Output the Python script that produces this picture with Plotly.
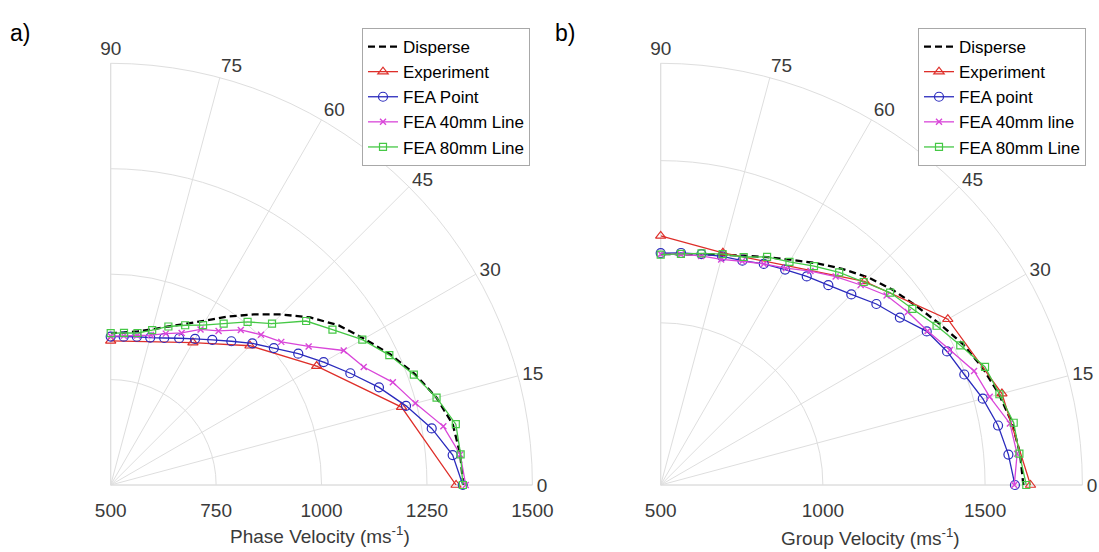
import plotly.graph_objects as go

# ---- data -------------------------------------------------------------
angles = [0, 5, 10, 15, 20, 25, 30, 35, 40, 45, 50, 55, 60, 65, 70, 75, 80, 85, 90]

# (a) phase velocity, m/s
phase_disperse = [1336, 1332, 1324, 1300, 1268, 1232, 1194, 1160, 1118, 1072,
                  1028, 988, 950, 922, 900, 882, 870, 863, 860]
phase_exp_angles = [0, 15, 30, 45, 60, 90]
phase_experiment = [1319, 1214, 1064, 967, 890, 842]
phase_fea_point = [1335, 1314, 1273, 1225, 1177, 1127, 1083, 1043, 1005, 975,
                   945, 920, 900, 884, 871, 862, 857, 853, 852]
phase_fea_40mm = [1342, 1332, 1301, 1248, 1212, 1162, 1138, 1073, 1028, 1004,
                  980, 946, 926, 898, 882, 868, 860, 855, 853]
phase_fea_80mm = [1335, 1333, 1331, 1300, 1265, 1229, 1189, 1142, 1105, 1041,
                  1005, 967, 938, 918, 900, 880, 866, 862, 860]

# (b) group velocity, m/s
group_disperse = [1618, 1612, 1600, 1580, 1556, 1528, 1493, 1462, 1435, 1405,
                  1370, 1335, 1302, 1275, 1252, 1235, 1222, 1214, 1212]
group_exp_angles = [0, 15, 30, 45, 75, 90]
group_experiment = [1640, 1589, 1522, 1388, 1241, 1268]
group_fea_point = [1592, 1576, 1556, 1528, 1496, 1474, 1447, 1400, 1368, 1331,
                   1304, 1285, 1267, 1252, 1236, 1230, 1223, 1218, 1215]
group_fea_40mm = [1590, 1603, 1593, 1550, 1528, 1484, 1450, 1430, 1409, 1372,
                  1339, 1305, 1272, 1252, 1234, 1220, 1217, 1214, 1212]
group_fea_80mm = [1627, 1610, 1605, 1581, 1564, 1519, 1482, 1447, 1423, 1385,
                  1356, 1324, 1294, 1276, 1248, 1237, 1225, 1215, 1210]

names_a = ["Disperse", "Experiment", "FEA Point", "FEA 40mm Line", "FEA 80mm Line"]
names_b = ["Disperse", "Experiment", "FEA point", "FEA 40mm line", "FEA 80mm Line"]

theta_ticks = [0, 15, 30, 45, 60, 75, 90]
r_ticks_a = [500, 750, 1000, 1250, 1500]
r_ticks_b = [500, 1000, 1500]

# ---- styling ----------------------------------------------------------
FONT = "Liberation Sans, Arial, sans-serif"
GRID = "#dedede"
TICK_COLOR = "#3a3a3a"
RED, BLUE, MAGENTA, GREEN = "#de2f2a", "#2b2bbd", "#d946d9", "#46c846"

W, H = 1099, 552


def add_series(fig, subplot, legend, names, disp, exp_th, exp, point, l40, l80):
    common = dict(subplot=subplot, legend=legend, cliponaxis=False,
                  hoverinfo="skip")
    fig.add_trace(go.Scatterpolar(
        theta=angles, r=disp, name=names[0], mode="lines",
        line=dict(color="black", width=2.3, dash="7px,4px"), **common))
    fig.add_trace(go.Scatterpolar(
        theta=exp_th, r=exp, name=names[1], mode="lines+markers",
        line=dict(color=RED, width=1.3),
        marker=dict(symbol="triangle-up-open", size=9, color=RED,
                    line=dict(width=1.2)), **common))
    fig.add_trace(go.Scatterpolar(
        theta=angles, r=point, name=names[2], mode="lines+markers",
        line=dict(color=BLUE, width=1.3),
        marker=dict(symbol="circle-open", size=9, color=BLUE,
                    line=dict(width=1.2)), **common))
    fig.add_trace(go.Scatterpolar(
        theta=angles, r=l40, name=names[3], mode="lines+markers",
        line=dict(color=MAGENTA, width=1.3),
        marker=dict(symbol="x-thin-open", size=6, color=MAGENTA,
                    line=dict(width=1.4, color=MAGENTA)), **common))
    fig.add_trace(go.Scatterpolar(
        theta=angles, r=l80, name=names[4], mode="lines+markers",
        line=dict(color=GREEN, width=1.3),
        marker=dict(symbol="square-open", size=7, color=GREEN,
                    line=dict(width=1.2)), **common))


fig = go.Figure()
add_series(fig, "polar", "legend", names_a, phase_disperse, phase_exp_angles,
           phase_experiment, phase_fea_point, phase_fea_40mm, phase_fea_80mm)
add_series(fig, "polar2", "legend2", names_b, group_disperse, group_exp_angles,
           group_experiment, group_fea_point, group_fea_40mm, group_fea_80mm)


def polar_layout(x0, x1, rrange, rticks):
    return dict(
        domain=dict(x=[x0 / W, x1 / W], y=[(H - 485) / H, (H - 63.3) / H]),
        sector=[0, 90],
        bgcolor="white",
        radialaxis=dict(
            range=rrange, tickmode="array", tickvals=rticks, angle=0,
            side="clockwise", showline=False,
            # invisible ticks push the labels a little below the axis
            ticks="outside", ticklen=9, tickcolor="rgba(0,0,0,0)",
            gridcolor=GRID, gridwidth=1,
            tickfont=dict(family=FONT, size=19, color=TICK_COLOR),
            layer="below traces"),
        angularaxis=dict(
            tickmode="array", tickvals=theta_ticks, direction="counterclockwise",
            rotation=0, showline=True, linecolor=GRID, linewidth=1,
            gridcolor=GRID, gridwidth=1, ticks="",
            tickfont=dict(family=FONT, size=19, color=TICK_COLOR),
            layer="below traces"),
    )


legend_style = dict(
    xanchor="left", yanchor="top", bgcolor="white", bordercolor="#a8a8a8",
    borderwidth=1, font=dict(family=FONT, size=17, color="black"),
    itemwidth=30, tracegroupgap=0, traceorder="normal")

fig.update_layout(
    width=W, height=H,
    margin=dict(l=0, r=0, t=0, b=0),
    paper_bgcolor="white",
    font=dict(family=FONT, color=TICK_COLOR),
    showlegend=True,
    polar=polar_layout(110.7, 532.4, [500, 1500], r_ticks_a),
    polar2=polar_layout(660.7, 1082.4, [500, 1800], r_ticks_b),
    legend=dict(x=362 / W, y=(H - 28) / H, **legend_style),
    legend2=dict(x=918 / W, y=(H - 28) / H, **legend_style),
    annotations=[
        dict(text="a)", x=8 / W, y=(H - 33) / H, xref="paper", yref="paper",
             xanchor="left", yanchor="middle", showarrow=False,
             font=dict(family=FONT, size=23, color="black")),
        dict(text="b)", x=553 / W, y=(H - 33) / H, xref="paper", yref="paper",
             xanchor="left", yanchor="middle", showarrow=False,
             font=dict(family=FONT, size=23, color="black")),
        dict(text="Phase Velocity (ms<sup>-1</sup>)", x=320 / W, y=(H - 535) / H,
             xref="paper", yref="paper", xanchor="center", yanchor="middle",
             showarrow=False, font=dict(family=FONT, size=19, color=TICK_COLOR)),
        dict(text="Group Velocity (ms<sup>-1</sup>)", x=870 / W, y=(H - 537) / H,
             xref="paper", yref="paper", xanchor="center", yanchor="middle",
             showarrow=False, font=dict(family=FONT, size=19, color=TICK_COLOR)),
    ],
)

fig.write_html("out.html")
